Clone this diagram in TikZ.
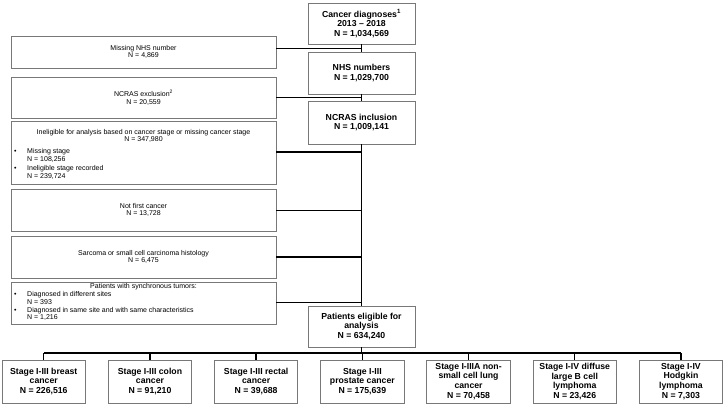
\documentclass[tikz,border=0pt]{standalone}
\usepackage{fontspec}
\setmainfont{Liberation Sans}
\definecolor{boxgray}{RGB}{120,120,120}
\begin{document}
\begin{tikzpicture}[x=1pt,y=-1pt,
  lbox/.style={draw=boxgray, line width=0.9pt, rectangle, inner sep=0pt, minimum width=265pt},
  bbox/.style={draw=boxgray, line width=0.9pt, rectangle, inner sep=0pt, align=center,
    font=\bfseries\fontsize{8.7}{9.8}\selectfont},
  ltext/.style={inner sep=0pt, align=center, font=\fontsize{7}{7.6}\selectfont},
  btext/.style={inner sep=0pt, align=left, font=\fontsize{7}{8.4}\selectfont},
  conn/.style={line width=1.4pt, black}
]
\useasboundingbox (0,0) rectangle (723,406);
\fill[white] (0,0) rectangle (723,406);

% left exclusion boxes
\node[lbox, minimum height=32pt] (m1) at (143.5,52) {};
\node[ltext] (m1t) at (m1.center) {Missing NHS number\\N = 4,869};
\node[lbox, minimum height=41pt] (m2) at (143.5,97.5) {};
\node[ltext] (m2t) at (m2.center) {NCRAS exclusion\textsuperscript{2}\\N = 20,559};
\node[lbox, minimum height=63pt] (m3) at (143.5,152.5) {};
\node[ltext, anchor=north] (m3t) at (143.5,129) {Ineligible for analysis based on cancer stage or missing cancer stage\\N = 347,980};
\node[btext, anchor=north west] (m3b) at (14,148) {\makebox[13pt][l]{\textbullet}Missing stage\\\hspace*{13pt}N = 108,256\\\makebox[13pt][l]{\textbullet}Ineligible stage recorded\\\hspace*{13pt}N = 239,724};
\node[lbox, minimum height=42pt] (m4) at (143.5,210) {};
\node[ltext] (m4t) at (m4.center) {Not first cancer\\N = 13,728};
\node[lbox, minimum height=42pt] (m5) at (143.5,257) {};
\node[ltext] (m5t) at (m5.center) {Sarcoma or small cell carcinoma histology\\N = 6,475};
\node[lbox, minimum height=42pt] (m6) at (143.5,303) {};
\node[ltext, anchor=north] (m6t) at (143.5,283) {Patients with synchronous tumors:};
\node[btext, anchor=north west, font=\fontsize{7}{7.9}\selectfont] (m6b) at (14,291) {\makebox[13pt][l]{\textbullet}Diagnosed in different sites\\\hspace*{13pt}N = 393\\\makebox[13pt][l]{\textbullet}Diagnosed in same site and with same characteristics\\\hspace*{13pt}N = 1,216};

% main column
\node[bbox, minimum width=107pt, minimum height=41pt] (c1) at (361.5,23.5) {Cancer diagnoses\textsuperscript{1}\\2013 – 2018\\N = 1,034,569};
\node[bbox, minimum width=107pt, minimum height=42pt] (c2) at (361.5,73) {NHS numbers\\N = 1,029,700};
\node[bbox, minimum width=107pt, minimum height=43pt] (c3) at (361.5,122.5) {NCRAS inclusion\\N = 1,009,141};
\node[bbox, minimum width=107pt, minimum height=41pt] (pe) at (361.5,326.5) {Patients eligible for\\analysis\\N = 634,240};

% outcome boxes
\node[bbox, minimum width=83.5pt, minimum height=43pt] (b1) at (43.75,381.5) {Stage I-III breast\\cancer\\N = 226,516};
\node[bbox, minimum width=83.5pt, minimum height=43pt] (b2) at (149.95,381.5) {Stage I-III colon\\cancer\\N = 91,210};
\node[bbox, minimum width=83.5pt, minimum height=43pt] (b3) at (256.15,381.5) {Stage I-III rectal\\cancer\\N = 39,688};
\node[bbox, minimum width=83.5pt, minimum height=43pt] (b4) at (362.35,381.5) {Stage I-III\\prostate cancer\\N = 175,639};
\node[bbox, minimum width=83.5pt, minimum height=43pt] (b5) at (468.55,381.5) {Stage I-IIIA non-\\small cell lung\\cancer\\N = 70,458};
\node[bbox, minimum width=83.5pt, minimum height=43pt] (b6) at (574.75,381.5) {Stage I-IV diffuse\\large B cell\\lymphoma\\N = 23,426};
\node[bbox, minimum width=83.5pt, minimum height=43pt] (b7) at (680.95,381.5) {Stage I-IV\\Hodgkin\\lymphoma\\N = 7,303};

% junctions
\coordinate (j1) at (361.5,48.3);
\coordinate (j2) at (361.5,97.5);
\coordinate (j3) at (361.5,152);
\coordinate (j4) at (361.5,210.5);
\coordinate (j5) at (361.5,257);
\coordinate (j6) at (361.5,302.5);
\coordinate (bus) at (361.5,353);

\draw[conn] (c1.south) -- (c2.north);
\draw[conn] (c2.south) -- (c3.north);
\draw[conn] (c3.south) -- (pe.north);
\draw[conn] (m1.east |- j1) -- (j1);
\draw[conn] (m2.east |- j2) -- (j2);
\draw[conn] (m3.east |- j3) -- (j3);
\draw[conn] (m4.east |- j4) -- (j4);
\draw[conn] (m5.east |- j5) -- (j5);
\draw[conn] (m6.east |- j6) -- (j6);
\draw[conn] (pe.south) -- (bus);
\draw[conn] (b1.north |- bus) -- (b7.north |- bus);
\foreach \b in {b1,b2,b3,b4,b5,b6,b7}{
  \draw[conn] (\b.north |- bus) -- (\b.north);
}
\end{tikzpicture}
\end{document}
